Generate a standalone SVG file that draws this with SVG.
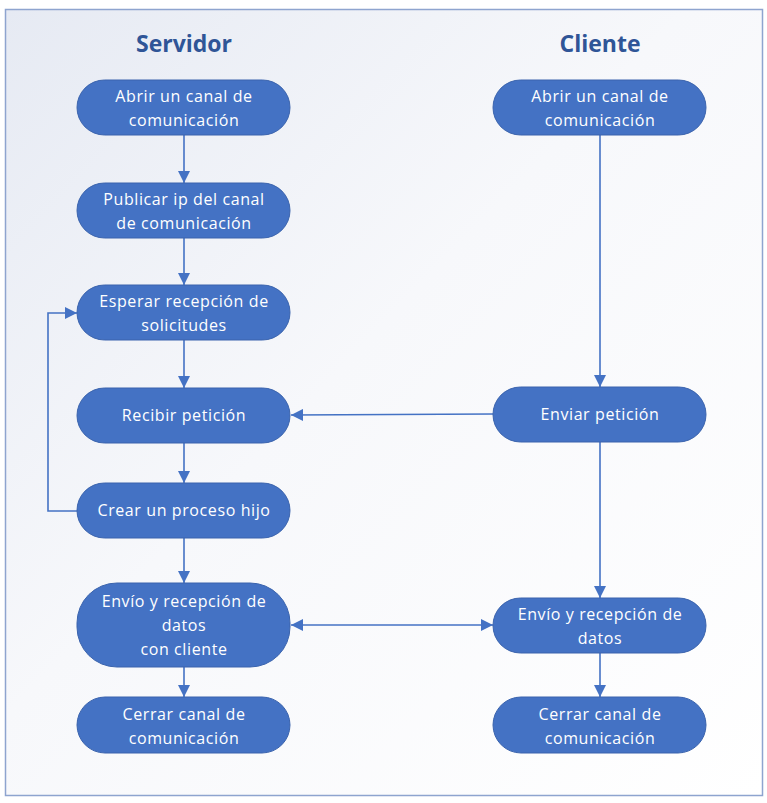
<svg xmlns="http://www.w3.org/2000/svg" width="767" height="803" viewBox="0 0 767 803">
<defs>
<linearGradient id="bg" x1="0" y1="0" x2="1" y2="1">
<stop offset="0" stop-color="#e6eaf3"/>
<stop offset="0.45" stop-color="#f7f8fb"/>
<stop offset="1" stop-color="#ffffff"/>
</linearGradient>
<marker id="ah" viewBox="0 0 12 12" refX="12" refY="6" markerWidth="12" markerHeight="12" markerUnits="userSpaceOnUse" orient="auto-start-reverse">
<path d="M0,0 L12,6 L0,12 Z" fill="#4472c4"/>
</marker>
<style>
.n{fill:#4472c4;stroke:#3a63ad;stroke-width:1}
.t{font-family:"Open Sans","Noto Sans","DejaVu Sans",sans-serif;font-size:16px;letter-spacing:0.6px;fill:#ffffff;text-anchor:middle}
.h{font-family:"Open Sans","Noto Sans","DejaVu Sans",sans-serif;font-size:23px;font-weight:bold;fill:#2f5597;text-anchor:middle}
.c{fill:none;stroke:#4472c4;stroke-width:1.6}
</style>
</defs>
<rect x="0" y="0" width="767" height="803" fill="#ffffff"/>
<rect x="5.5" y="9.5" width="757" height="786" fill="url(#bg)" stroke="#8ea4cf" stroke-width="1.5"/>
<text class="h" x="184" y="52">Servidor</text>
<text class="h" x="600" y="52">Cliente</text>

<g id="connectors">
<line class="c" x1="184" y1="135" x2="184" y2="183" marker-end="url(#ah)"/>
<line class="c" x1="184" y1="238" x2="184" y2="285" marker-end="url(#ah)"/>
<line class="c" x1="184" y1="340" x2="184" y2="388" marker-end="url(#ah)"/>
<line class="c" x1="184" y1="443" x2="184" y2="483" marker-end="url(#ah)"/>
<line class="c" x1="184" y1="538" x2="184" y2="583" marker-end="url(#ah)"/>
<line class="c" x1="184" y1="667" x2="184" y2="697" marker-end="url(#ah)"/>
<polyline class="c" points="77,511 48,511 48,313 77,313" marker-end="url(#ah)"/>
<line class="c" x1="600" y1="135" x2="600" y2="387" marker-end="url(#ah)"/>
<line class="c" x1="600" y1="442" x2="600" y2="598" marker-end="url(#ah)"/>
<line class="c" x1="600" y1="653" x2="600" y2="697" marker-end="url(#ah)"/>
<line class="c" x1="493" y1="414" x2="291" y2="415" marker-end="url(#ah)"/>
<line class="c" x1="291" y1="625" x2="493" y2="625" marker-start="url(#ah)" marker-end="url(#ah)"/>
</g>

<g id="s1"><rect class="n" x="77" y="80" width="213" height="55" rx="27.5"/>
<text class="t" x="184" y="102">Abrir un canal de</text><text class="t" x="184" y="126">comunicación</text></g>
<g id="s2"><rect class="n" x="77" y="183" width="213" height="55" rx="27.5"/>
<text class="t" x="184" y="205">Publicar ip del canal</text><text class="t" x="184" y="229">de comunicación</text></g>
<g id="s3"><rect class="n" x="77" y="285" width="213" height="55" rx="27.5"/>
<text class="t" x="184" y="307">Esperar recepción de</text><text class="t" x="184" y="331">solicitudes</text></g>
<g id="s4"><rect class="n" x="77" y="388" width="213" height="55" rx="27.5"/>
<text class="t" x="184" y="421">Recibir petición</text></g>
<g id="s5"><rect class="n" x="77" y="483" width="213" height="55" rx="27.5"/>
<text class="t" x="184" y="516">Crear un proceso hijo</text></g>
<g id="s6"><rect class="n" x="77" y="583" width="213" height="84" rx="40"/>
<text class="t" x="184" y="607">Envío y recepción de</text><text class="t" x="184" y="631">datos</text><text class="t" x="184" y="655">con cliente</text></g>
<g id="s7"><rect class="n" x="77" y="697" width="213" height="56" rx="28"/>
<text class="t" x="184" y="720">Cerrar canal de</text><text class="t" x="184" y="744">comunicación</text></g>

<g id="c1"><rect class="n" x="493" y="80" width="213" height="55" rx="27.5"/>
<text class="t" x="600" y="102">Abrir un canal de</text><text class="t" x="600" y="126">comunicación</text></g>
<g id="c2"><rect class="n" x="493" y="387" width="213" height="55" rx="27.5"/>
<text class="t" x="600" y="420">Enviar petición</text></g>
<g id="c3"><rect class="n" x="493" y="598" width="213" height="55" rx="27.5"/>
<text class="t" x="600" y="620">Envío y recepción de</text><text class="t" x="600" y="644">datos</text></g>
<g id="c4"><rect class="n" x="493" y="697" width="213" height="56" rx="28"/>
<text class="t" x="600" y="720">Cerrar canal de</text><text class="t" x="600" y="744">comunicación</text></g>
</svg>
